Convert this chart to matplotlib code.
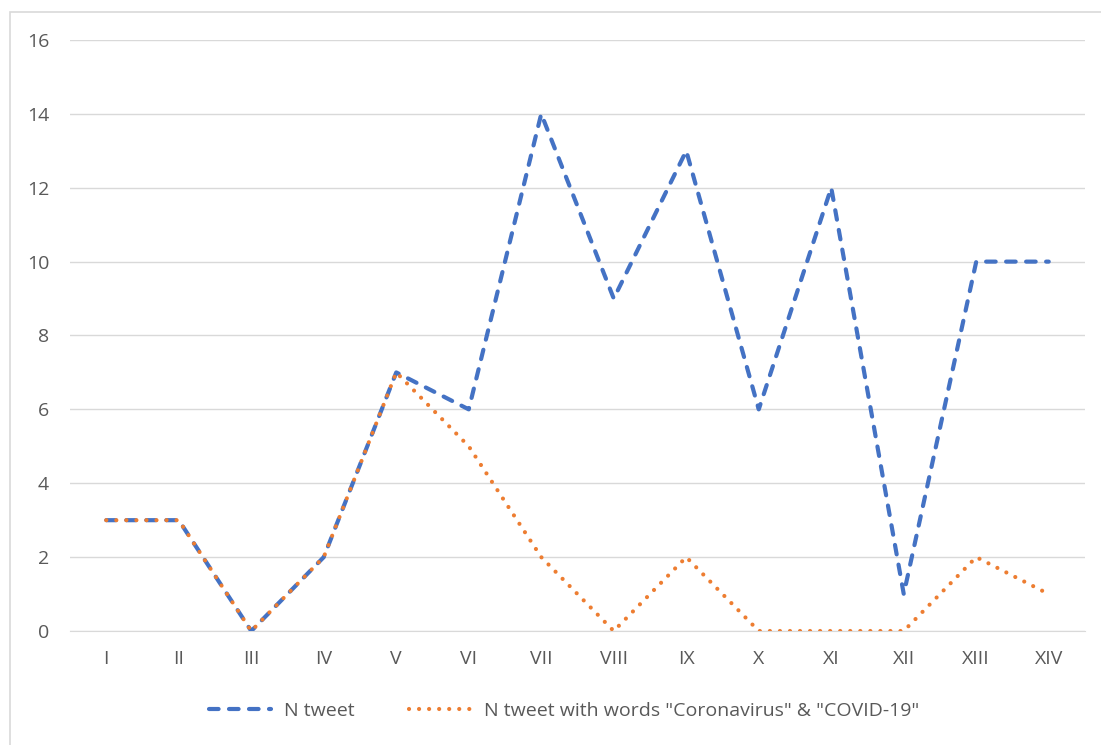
import matplotlib
matplotlib.use("Agg")
import matplotlib.pyplot as plt
from matplotlib.patches import Rectangle

categories = ["I", "II", "III", "IV", "V", "VI", "VII", "VIII", "IX", "X", "XI", "XII", "XIII", "XIV"]
n_tweet = [3, 3, 0, 2, 7, 6, 14, 9, 13, 6, 12, 1, 10, 10]
n_covid = [3, 3, 0, 2, 7, 5, 2, 0, 2, 0, 0, 0, 2, 1]
yticks = [0, 2, 4, 6, 8, 10, 12, 14, 16]

plt.rcParams['font.family'] = ['Open Sans', 'DejaVu Sans']

W, H = 1101, 745
fig = plt.figure(figsize=(W/100, H/100), dpi=100)
fig.patches.append(Rectangle((10/W, -0.1), 1.2, 1.1 - 12/H, transform=fig.transFigure,
                             fill=False, edgecolor='#d9d9d9', linewidth=1.2, zorder=0))

ax = fig.add_axes([70/W, 1 - 631/H, (1085 - 70)/W, (631 - 40)/H])
x = list(range(len(categories)))
ax.plot(x, n_tweet, color='#4472C4', linewidth=3.0, linestyle=(0, (2.3, 2.5)),
        dash_capstyle='round', label='N tweet', zorder=3)
ax.plot(x, n_covid, color='#ED7D31', linewidth=3.0, linestyle=(0, (0.01, 2.4)),
        dash_capstyle='round', label='N tweet with words "Coronavirus" & "COVID-19"', zorder=4)

ax.set_xlim(-0.5, len(categories) - 0.5)
ax.set_ylim(0, 16)
ax.set_yticks(yticks)
ax.set_xticks(x)
ax.set_xticklabels(categories)
ax.grid(axis='y', color='#d9d9d9', linewidth=1)
ax.set_axisbelow(True)
for s in ['top', 'right', 'left']:
    ax.spines[s].set_visible(False)
ax.spines['bottom'].set_color('#d9d9d9')
ax.tick_params(axis='both', length=0, labelsize=14, colors='#595959')
ax.tick_params(axis='y', pad=15)
ax.tick_params(axis='x', pad=14)

leg = fig.legend(loc='center', bbox_to_anchor=(564/W, 1 - 711/H), ncol=2, frameon=False,
                 fontsize=14, handlelength=3.2, handletextpad=0.65, columnspacing=2.8)
for t in leg.get_texts():
    t.set_color('#595959')

fig.savefig('out.png', dpi=100)
